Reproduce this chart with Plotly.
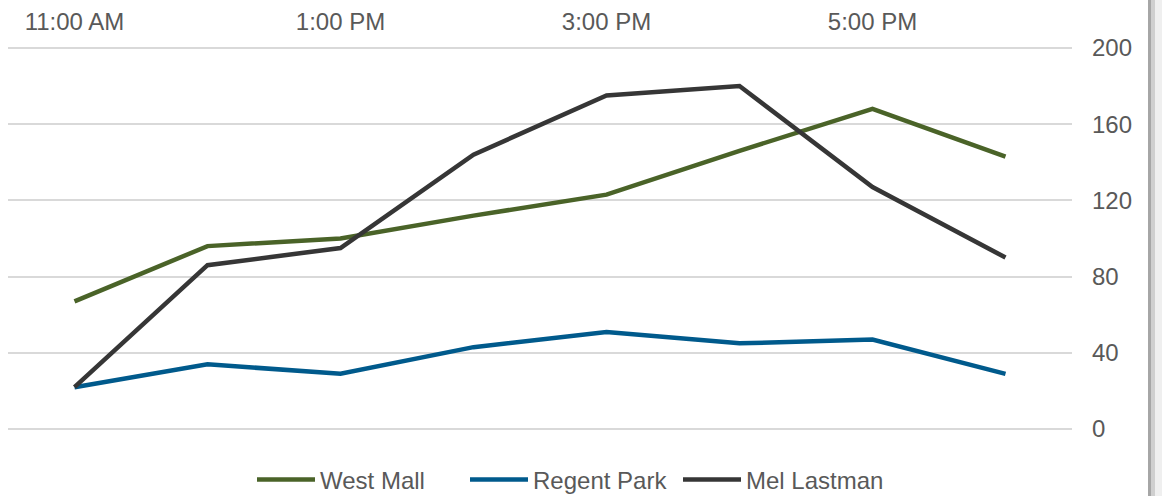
import plotly.graph_objects as go

times = ["11:00 AM", "12:00 PM", "1:00 PM", "2:00 PM", "3:00 PM", "4:00 PM", "5:00 PM", "6:00 PM"]
tick_labels = ["11:00 AM", "1:00 PM", "3:00 PM", "5:00 PM"]
west_mall = [67, 96, 100, 112, 123, 146, 168, 143]
regent_park = [22, 34, 29, 43, 51, 45, 47, 29]
mel_lastman = [22, 86, 95, 144, 175, 180, 127, 90]

series = [
    ("West Mall", west_mall, "#4a6328"),
    ("Regent Park", regent_park, "#005a8c"),
    ("Mel Lastman", mel_lastman, "#363636"),
]

fig = go.Figure()
for name, vals, color in series:
    fig.add_trace(go.Scatter(x=times, y=vals, name=name, mode="lines",
                             line=dict(color=color, width=4.5)))

font = dict(family="Liberation Sans, Arial, sans-serif", size=24, color="#595959")

T, B, L, R = 46, 65, 8, 99
H = 496 - T - B
W = 1171 - L - R

fig.update_layout(
    width=1171, height=496,
    margin=dict(l=L, r=R, t=T, b=B, autoexpand=False),
    paper_bgcolor="white", plot_bgcolor="white",
    font=font,
    showlegend=True,
    legend=dict(orientation="h", x=252 / 1171, xanchor="left", xref="container",
                y=1 - 480 / 496, yanchor="middle", yref="container",
                font=font, tracegroupgap=0, itemwidth=58,
                entrywidth=140, entrywidthmode="pixels"),
    xaxis=dict(type="category", side="top", range=[-0.5, 7.5],
               tickvals=tick_labels, ticktext=tick_labels,
               showgrid=False, zeroline=False, showline=False, ticks="",
               ticklabelstandoff=10, tickfont=font),
    yaxis=dict(side="right", range=[-1, 201], tickvals=[0, 40, 80, 120, 160, 200],
               showgrid=True, gridcolor="#d9d9d9", gridwidth=1.5,
               zeroline=False, showline=False, ticks="",
               ticklabelstandoff=19, tickfont=font),
    shapes=[
        dict(type="rect", xref="paper", yref="paper", x0=(1148 - L) / W, x1=(1151 - L) / W,
             y0=-B / H, y1=1 + T / H, fillcolor="#a6a6a6", line=dict(width=0), layer="above"),
        dict(type="rect", xref="paper", yref="paper", x0=(1151 - L) / W, x1=(1155 - L) / W,
             y0=-B / H, y1=1 + T / H, fillcolor="#cfcfcf", line=dict(width=0), layer="above"),
        dict(type="rect", xref="paper", yref="paper", x0=(1155 - L) / W, x1=(1162 - L) / W,
             y0=-B / H, y1=1 + T / H, fillcolor="#efefef", line=dict(width=0), layer="above"),
    ],
)

fig.write_html("out.html")
